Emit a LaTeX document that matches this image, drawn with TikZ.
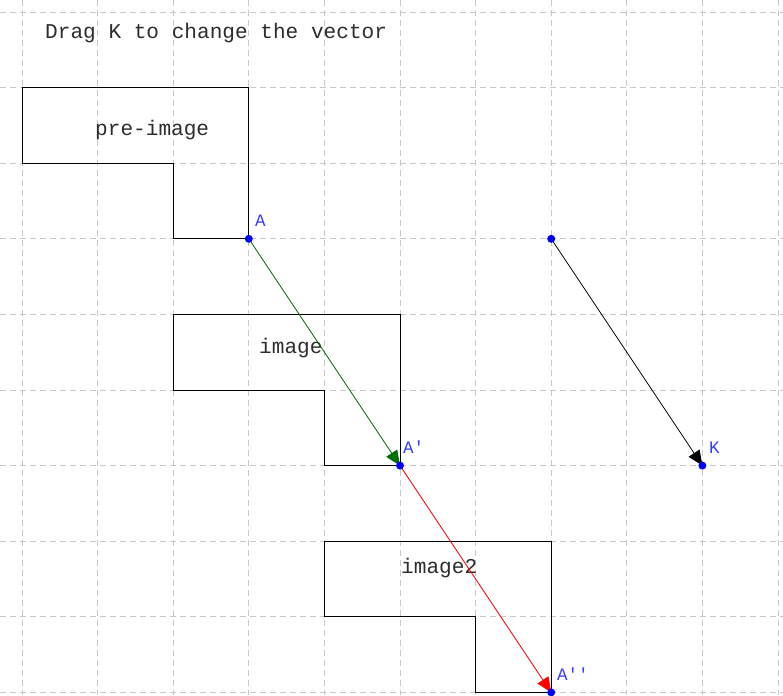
\documentclass[tikz,border=0pt]{standalone}
\usepackage{fontspec}
\newfontfamily\monof{Liberation Mono}
\usetikzlibrary{arrows.meta}
\definecolor{gridc}{RGB}{200,200,200}
\definecolor{txt}{RGB}{45,45,45}
\definecolor{lblue}{RGB}{60,60,255}
\definecolor{dgreen}{RGB}{0,110,0}
\tikzset{
  gridline/.style={gridc, line width=0.9pt, dash pattern=on 6pt off 4pt},
  polyline/.style={black, line width=0.8pt},
  dot/.style={circle, fill=blue, inner sep=0pt, minimum size=8pt},
  ptlabel/.style={anchor=base west, text=lblue, font=\monof\fontsize{17.5}{17.5}\selectfont, inner sep=0pt},
  shlabel/.style={anchor=base west, text=txt, font=\monof\fontsize{21.1}{21.1}\selectfont, inner sep=0pt},
  vec/.style={line width=0.8pt, -{Triangle[length=15pt,width=13pt]}}
}
\begin{document}
\begin{tikzpicture}[x=1pt,y=-1pt]
\useasboundingbox (0,0) rectangle (783,695);
\fill[white] (0,0) rectangle (783,695);
\foreach \i in {0,...,10} {
  \draw[gridline] ({22+75.6*\i},0) -- ({22+75.6*\i},695);
}
\foreach \j in {0,...,9} {
  \draw[gridline] (0,{12+75.6*\j}) -- (783,{12+75.6*\j});
}
% shapes
\draw[polyline] (22,87.6) -- (248.8,87.6) -- (248.8,238.8) -- (173.2,238.8) -- (173.2,163.2) -- (22,163.2) -- cycle;
\draw[polyline] (173.2,314.4) -- (400,314.4) -- (400,465.6) -- (324.4,465.6) -- (324.4,390) -- (173.2,390) -- cycle;
\draw[polyline] (324.4,541.2) -- (551.2,541.2) -- (551.2,692.4) -- (475.6,692.4) -- (475.6,616.8) -- (324.4,616.8) -- cycle;
% texts
\node[shlabel] (title) at (45,39) {Drag K to change the vector};
\node[shlabel] (pre) at (95,136) {pre-image};
\node[shlabel] (img) at (259,353) {image};
\node[shlabel] (img2) at (401,573) {image2};
% points
\coordinate (A) at (248.8,238.8);
\coordinate (A1) at (400,465.6);
\coordinate (A2) at (551.2,692.4);
\coordinate (S) at (551.2,238.8);
\coordinate (K) at (702.4,465.6);
\draw[vec, dgreen] (A) -- (A1);
\draw[vec, red] (A1) -- (A2);
\draw[vec, black] (S) -- (K);
\node[dot] (dA) at (A) {};
\node[dot] (dA1) at (A1) {};
\node[dot] (dA2) at (A2) {};
\node[dot] (dS) at (S) {};
\node[dot] (dK) at (K) {};
\node[ptlabel] (lA) at (255,226) {A};
\node[ptlabel] (lA1) at (403,453) {A′};
\node[ptlabel] (lA2) at (557,680) {A′′};
\node[ptlabel] (lK) at (709,453) {K};
\end{tikzpicture}
\end{document}
